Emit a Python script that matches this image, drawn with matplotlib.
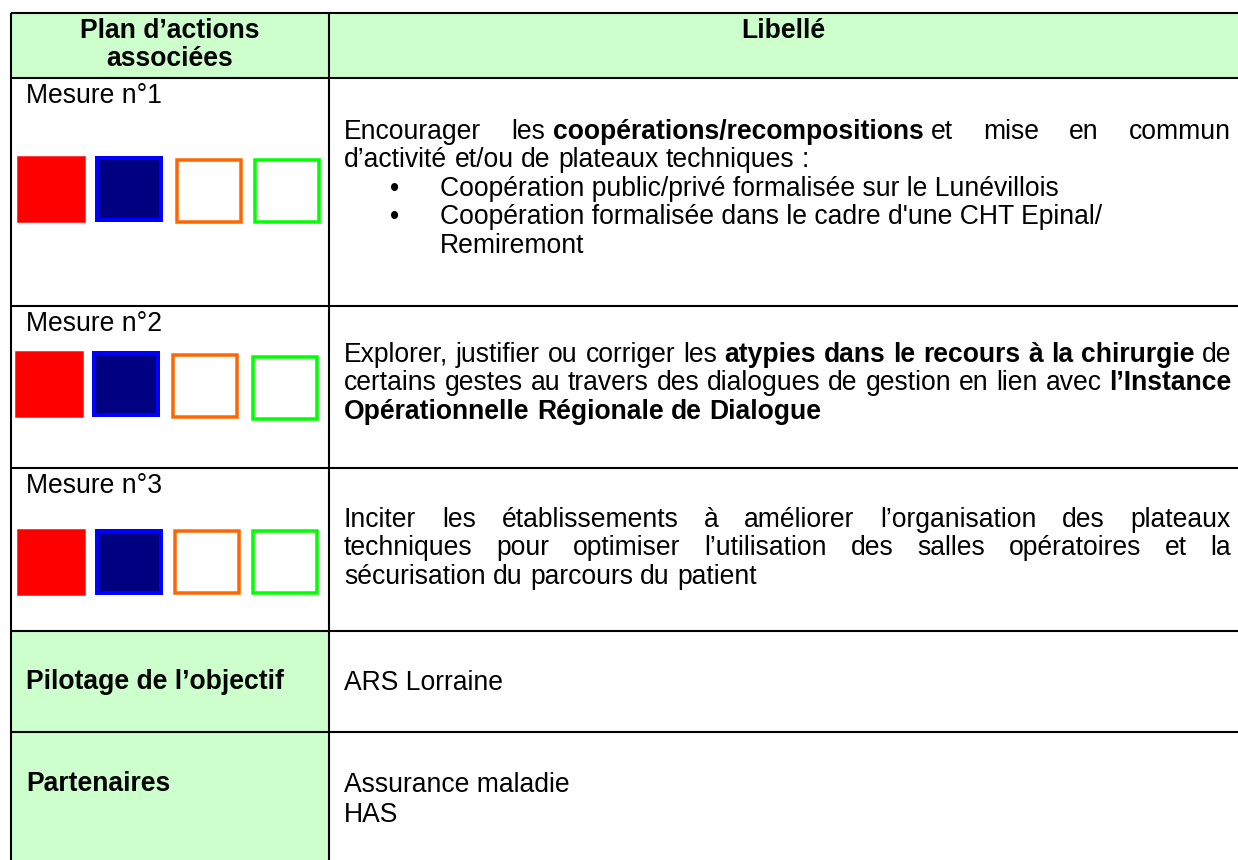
import matplotlib
matplotlib.use("Agg")
import matplotlib.pyplot as plt
from matplotlib.patches import Rectangle

W, H = 1238, 860
FONT = "Liberation Sans"
FS = 19.1                      # pt, Arial-like body text
SPACE = FS * 100 / 72 * 0.278  # width of a space in px

# --- table content ---
header_left = ["Plan d’actions", "associées"]
header_right = "Libellé"
mesures = ["Mesure n°1", "Mesure n°2", "Mesure n°3"]

# indicator squares shown under each measure
square_faces = ["#ff0000", "#000080", "white", "white"]
square_edges = ["#ff0000", "#0000ff", "#ff6600", "#00ff00"]
square_lw = [0.5, 4.0, 3.5, 3.5]

# libellé lines: (segments, justified)  segments = [(text, bold), ...]
libelle_1 = [
    ([("Encourager les", False), ("coopérations/recompositions", True),
      ("et mise en commun", False)], True),
    ([("d’activité et/ou de plateaux techniques :", False)], False),
]
bullets_1 = [
    "Coopération public/privé formalisée sur le Lunévillois",
    "Coopération formalisée dans le cadre d'une CHT Epinal/",
    "Remiremont",
]
libelle_2 = [
    ([("Explorer, justifier ou corriger les", False),
      ("atypies dans le recours à la chirurgie", True), ("de", False)], True),
    ([("certains gestes au travers des dialogues de gestion en lien avec", False),
      ("l’Instance", True)], True),
    ([("Opérationnelle Régionale de Dialogue", True)], False),
]
libelle_3 = [
    ([("Inciter les établissements à améliorer l’organisation des plateaux", False)], True),
    ([("techniques pour optimiser l’utilisation des salles opératoires et la", False)], True),
    ([("sécurisation du parcours du patient", False)], False),
]
pilotage_label = "Pilotage de l’objectif"
pilotage_value = ["ARS Lorraine"]
partenaires_label = "Partenaires"
partenaires_value = ["Assurance maladie", "HAS"]

# --- layout (pixels) ---
X_LEFT, X_MID, X_RIGHT = 11, 329, 1238
ROW_Y = [13, 78, 306, 468, 631, 732, 860]
TX_L, TX_R, TX_END = 26, 344, 1231
LINE = 28.4
GREEN = "#ccffcc"

fig = plt.figure(figsize=(W / 100, H / 100), dpi=100)
ax = fig.add_axes([0, 0, 1, 1])
ax.set_xlim(0, W)
ax.set_ylim(H, 0)
ax.axis("off")
renderer = fig.canvas.get_renderer()


def text(x, y, s, bold=False, **kw):
    return ax.text(x, y, s, fontsize=FS, family=FONT, va="baseline",
                   fontweight="bold" if bold else "normal", color="black", **kw)


def measure(s, bold):
    t = text(0, 0, s, bold)
    w = t.get_window_extent(renderer).width
    t.remove()
    return w


def draw_line(segs, x0, y, justified):
    # words, and whether the gap before each word sits on a bold/normal boundary
    words, fixed = [], []
    for si, (s, b) in enumerate(segs):
        for wi, w in enumerate(s.split()):
            words.append((w, b))
            fixed.append(si > 0 and wi == 0)
    widths = [measure(w, b) for w, b in words]
    gap = SPACE
    n_free = sum(1 for f in fixed[1:] if not f)
    if justified and n_free > 0:
        n_fixed = len(words) - 1 - n_free
        gap = (TX_END - x0 - sum(widths) - n_fixed * SPACE) / n_free
    x = x0
    for k, ((w, b), wd) in enumerate(zip(words, widths)):
        if k > 0:
            x += SPACE if fixed[k] else gap
        text(x, y, w, b)
        x += wd


# green backgrounds
ax.add_patch(Rectangle((X_LEFT, ROW_Y[0]), X_RIGHT - X_LEFT, ROW_Y[1] - ROW_Y[0],
                       facecolor=GREEN, edgecolor="none"))
ax.add_patch(Rectangle((X_LEFT, ROW_Y[4]), X_MID - X_LEFT, ROW_Y[6] - ROW_Y[4],
                       facecolor=GREEN, edgecolor="none"))

# grid lines
for y in ROW_Y[:-1]:
    ax.plot([X_LEFT, X_RIGHT], [y, y], color="black", lw=1.5, solid_capstyle="butt")
for x in (X_LEFT, X_MID):
    ax.plot([x, x], [ROW_Y[0], H], color="black", lw=1.5, solid_capstyle="butt")

# header
text((X_LEFT + X_MID) / 2, 38, header_left[0], True, ha="center")
text((X_LEFT + X_MID) / 2, 66, header_left[1], True, ha="center")
text((X_MID + X_RIGHT) / 2, 38, header_right, True, ha="center")

# measures + indicator squares
sq_x = [[17, 95, 175, 253], [15, 92, 171, 251], [17, 95, 173, 251]]
sq_y = [[156, 156, 158, 158], [351, 351, 353, 355], [529, 529, 529, 529]]
sq_w, sq_h = 68, 66
for i, m in enumerate(mesures):
    text(TX_L, ROW_Y[i + 1] + 25, m)
    for j in range(4):
        lw = square_lw[j]
        ax.add_patch(Rectangle((sq_x[i][j] + lw / 2, sq_y[i][j] + lw / 2),
                               sq_w - lw, sq_h - lw, facecolor=square_faces[j],
                               edgecolor=square_edges[j], lw=lw * 0.72,
                               joinstyle="miter"))

# libellé row 1
y = 139
for segs, just in libelle_1:
    draw_line(segs, TX_R, y, just)
    y += LINE
for k, b in enumerate(bullets_1):
    if k < 2:
        text(390, y, "•")
    text(440, y, b)
    y += LINE

# libellé rows 2 and 3
for lines, y0 in ((libelle_2, 362), (libelle_3, 527)):
    for k, (segs, just) in enumerate(lines):
        draw_line(segs, TX_R, y0 + k * LINE, just)

# pilotage / partenaires
text(TX_L, 689, pilotage_label, True)
text(TX_R, 690, pilotage_value[0])
text(TX_L, 791, partenaires_label, True)
for k, v in enumerate(partenaires_value):
    text(TX_R, 792 + k * 30, v)

fig.savefig("out.png", dpi=100)
